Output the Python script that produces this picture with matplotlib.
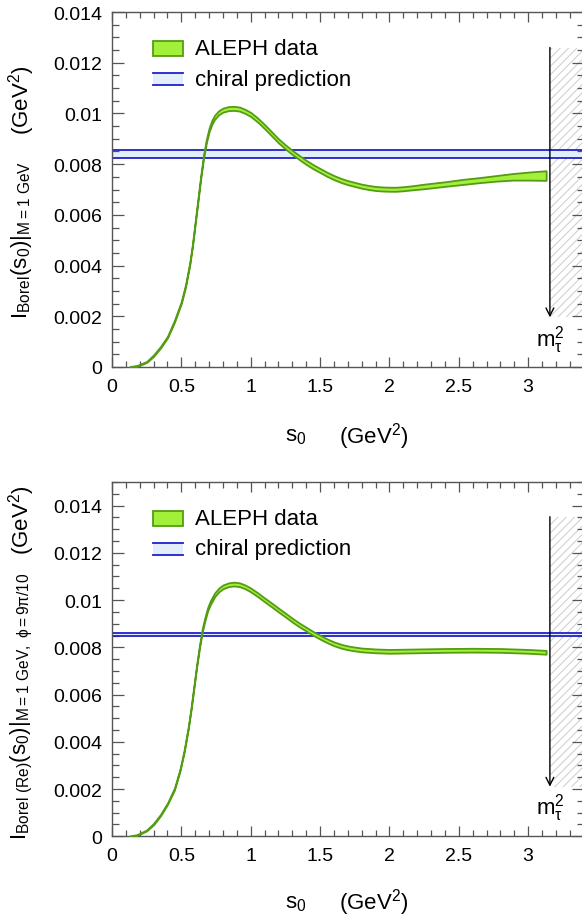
import matplotlib
matplotlib.use("Agg")
import matplotlib.pyplot as plt
from matplotlib.patches import Rectangle
from matplotlib.ticker import FixedLocator, FixedFormatter, MultipleLocator
import numpy as np

# ---------------- data ----------------
# top panel: ALEPH band (centre and half-width)
s_top = [0.13, 0.18, 0.25, 0.30, 0.35, 0.40, 0.45, 0.50, 0.53, 0.56, 0.58, 0.60,
         0.62, 0.64, 0.66, 0.68, 0.70, 0.72, 0.74, 0.77, 0.80, 0.84, 0.88, 0.92,
         0.96, 1.00, 1.05, 1.10, 1.15, 1.20, 1.25, 1.30, 1.35, 1.40, 1.45, 1.50,
         1.55, 1.60, 1.65, 1.70, 1.75, 1.80, 1.85, 1.90, 1.95, 2.00, 2.05, 2.10,
         2.17, 2.25, 2.33, 2.41, 2.53, 2.65, 2.77, 2.89, 3.01, 3.13]
v_top = [0.0, 0.00004, 0.0002, 0.00045, 0.00078, 0.00118, 0.0018, 0.00255, 0.0032,
         0.00405, 0.0048, 0.0057, 0.0066, 0.0075, 0.0083, 0.0089, 0.00935, 0.00965,
         0.00985, 0.01003, 0.01013, 0.01019, 0.0102, 0.01017, 0.01008, 0.00996,
         0.00974, 0.00948, 0.0092, 0.00892, 0.00868, 0.00846, 0.00826, 0.00807,
         0.0079, 0.00775, 0.0076, 0.00747, 0.00736, 0.00727, 0.0072, 0.00713,
         0.00708, 0.00704, 0.00702, 0.00701, 0.00701, 0.00703, 0.00707, 0.00712,
         0.00717, 0.00722, 0.0073, 0.00737, 0.00744, 0.0075, 0.00753, 0.00755]
e_top = [0.00002, 0.00002, 0.00002, 0.00003, 0.00003, 0.00003, 0.00004, 0.00004, 0.00005,
         0.00005, 0.00005, 0.00006, 0.00006, 0.00006, 0.00007, 0.00007, 0.00007, 0.00008,
         0.00008, 0.00008, 0.00008, 0.00008, 0.00008, 0.00008, 0.00008, 0.00008,
         0.00008, 0.00008, 0.00008, 0.00008, 0.00008, 0.00008, 0.00008, 0.00008,
         0.00008, 0.00008, 0.00008, 0.00008, 0.00008, 0.00008, 0.00008, 0.00008,
         0.00008, 0.00008, 0.00008, 0.00008, 0.00008, 0.00008, 0.00008, 0.00009,
         0.00009, 0.00009, 0.0001, 0.0001, 0.00011, 0.00013, 0.00016, 0.00019]
chiral_top = [0.00825, 0.00856]

# bottom panel
s_bot = [0.13, 0.18, 0.25, 0.30, 0.35, 0.40, 0.45, 0.49, 0.52, 0.55, 0.57, 0.59,
         0.61, 0.63, 0.65, 0.67, 0.69, 0.71, 0.74, 0.77, 0.80, 0.84, 0.88, 0.92,
         0.96, 1.00, 1.05, 1.10, 1.15, 1.20, 1.25, 1.30, 1.35, 1.40, 1.45, 1.50,
         1.55, 1.60, 1.65, 1.70, 1.75, 1.80, 1.90, 2.00, 2.20, 2.40, 2.60, 2.80,
         3.00, 3.13]
v_bot = [0.0, 0.00005, 0.00025, 0.00052, 0.0009, 0.00138, 0.002, 0.0028, 0.0036,
         0.0046, 0.0054, 0.0063, 0.0072, 0.008, 0.0087, 0.0092, 0.00962, 0.0099,
         0.01022, 0.01043, 0.01056, 0.01065, 0.01068, 0.01065, 0.01056, 0.01043,
         0.01023, 0.01001, 0.0098, 0.00958, 0.00937, 0.00915, 0.00895, 0.00877,
         0.00859, 0.00843, 0.00828, 0.00815, 0.00805, 0.00798, 0.00793, 0.00789,
         0.00785, 0.00783, 0.00785, 0.00787, 0.00788, 0.00787, 0.00783, 0.00779]
e_bot = [0.00002, 0.00002, 0.00002, 0.00003, 0.00003, 0.00003, 0.00004, 0.00004, 0.00005,
         0.00005, 0.00005, 0.00006, 0.00006, 0.00006, 0.00007, 0.00007, 0.00007, 0.00008,
         0.00008, 0.00008, 0.00008, 0.00008, 0.00008, 0.00008, 0.00008, 0.00008,
         0.00008, 0.00008, 0.00008, 0.00008, 0.00008, 0.00008, 0.00008, 0.00008,
         0.00008, 0.00008, 0.00008, 0.00008, 0.00008, 0.00008, 0.00008, 0.00008,
         0.00008, 0.00008, 0.00008, 0.00008, 0.00008, 0.00008, 0.00008, 0.00008]
chiral_bot = [0.00847, 0.0086]

m_tau2 = 3.157
x_ticks = [0, 0.5, 1, 1.5, 2, 2.5, 3]
x_ticklabels = ["0", "0.5", "1", "1.5", "2", "2.5", "3"]
y_ticks = [0, 0.002, 0.004, 0.006, 0.008, 0.01, 0.012, 0.014]
y_ticklabels = ["0", "0.002", "0.004", "0.006", "0.008", "0.01", "0.012", "0.014"]

legend_labels = ["ALEPH data", "chiral prediction"]
ylabel_top = r"$\mathrm{I_{Borel}(s_0)|_{M=1\ GeV}}$"
ylabel_bot = r"$\mathrm{I_{Borel\ (Re)}(s_0)|_{M=1\ GeV,\ \phi=9\pi/10}}$"

# ---------------- style ----------------
FONT = "Liberation Sans"
plt.rcParams["font.family"] = [FONT, "DejaVu Sans"]
plt.rcParams["mathtext.fontset"] = "custom"
plt.rcParams["mathtext.rm"] = FONT
plt.rcParams["mathtext.it"] = FONT + ":italic"
plt.rcParams["mathtext.sf"] = FONT
plt.rcParams["hatch.linewidth"] = 0.7

GREEN_FILL = "#a3f03a"
GREEN_EDGE = "#549c14"
BLUE = "#2020cc"
BAND_BLUE = "#e2effa"
FRAME = "#555555"

fig = plt.figure(figsize=(5.82, 9.2), dpi=100)

W = 582.0
H = 920.0
left = 112 / W
width = 471.6 / W


def make_panel(ax, s, v, e, chiral, ytop, hatch_top, arrow_bot, label_y):
    s = np.asarray(s)
    v = np.asarray(v)
    e = np.asarray(e)
    ax.set_xlim(0, 3.4)
    ax.set_ylim(0, ytop)
    # chiral band
    ax.axhspan(chiral[0], chiral[1], color=BAND_BLUE, lw=0, zorder=1)
    ax.axhline(chiral[0], color=BLUE, lw=1.3, zorder=2)
    ax.axhline(chiral[1], color=BLUE, lw=1.3, zorder=2)
    # ALEPH band
    ax.fill_between(s, v - e, v + e, facecolor=GREEN_FILL, edgecolor=GREEN_EDGE,
                    lw=1.3, zorder=3)
    # excluded region hatch
    r = Rectangle((m_tau2, arrow_bot), 3.4 - m_tau2, hatch_top - arrow_bot,
                  fill=False, hatch="////", edgecolor="#cccccc", lw=0, zorder=0)
    ax.add_patch(r)
    ax.annotate("", xy=(m_tau2, arrow_bot), xytext=(m_tau2, hatch_top),
                arrowprops=dict(arrowstyle="->", color="black", lw=1.0,
                                shrinkA=0, shrinkB=0, mutation_scale=14),
                zorder=4)
    ax.text(m_tau2, label_y, r"m$_{\mathrm{\tau}}^{2}$", fontsize=16, ha="center",
            va="center", zorder=5)

    # ticks
    ax.xaxis.set_major_locator(FixedLocator(x_ticks))
    ax.xaxis.set_major_formatter(FixedFormatter(x_ticklabels))
    ax.xaxis.set_minor_locator(MultipleLocator(0.1))
    ax.yaxis.set_major_locator(FixedLocator(y_ticks))
    ax.yaxis.set_major_formatter(FixedFormatter(y_ticklabels))
    ax.yaxis.set_minor_locator(MultipleLocator(0.0005))
    ax.tick_params(which="both", direction="in", top=True, right=True,
                   color=FRAME, width=0.9, labelsize=14)
    ax.tick_params(axis="x", which="major", length=7.5, pad=8)
    ax.tick_params(axis="x", which="minor", length=4.3)
    ax.tick_params(axis="y", which="major", length=8.6, pad=7)
    ax.tick_params(axis="y", which="minor", length=5)
    for sp in ax.spines.values():
        sp.set_color(FRAME)
        sp.set_linewidth(1.0)

    # legend drawn by hand in axes fraction
    ax.add_patch(Rectangle((0.087, 0.877), 0.0635, 0.04, transform=ax.transAxes,
                           facecolor=GREEN_FILL, edgecolor=GREEN_EDGE, lw=1.3,
                           zorder=6))
    ax.text(0.176, 0.897, legend_labels[0], transform=ax.transAxes, fontsize=16,
            va="center", ha="left")
    ax.add_patch(Rectangle((0.087, 0.793), 0.0635, 0.036, transform=ax.transAxes,
                           facecolor=BAND_BLUE, lw=0, zorder=6))
    for yy in (0.793, 0.829):
        ax.plot([0.087, 0.1505], [yy, yy], transform=ax.transAxes, color=BLUE,
                lw=1.3, zorder=7)
    ax.text(0.176, 0.811, legend_labels[1], transform=ax.transAxes, fontsize=16,
            va="center", ha="left")


ax1 = fig.add_axes([left, (H - 368) / H, width, 355 / H])
make_panel(ax1, s_top, v_top, e_top, chiral_top, 0.014, 0.0126, 0.00196, 0.0011)
ax2 = fig.add_axes([left, (H - 837.3) / H, width, 354.3 / H])
make_panel(ax2, s_bot, v_bot, e_bot, chiral_bot, 0.015, 0.01353, 0.0021, 0.00122)

# axis labels (figure coords)
for ypix_lab, ypix_gev, lab in ((240, 100, ylabel_top), (706, 520, ylabel_bot)):
    fig.text(22 / W, 1 - ypix_lab / H, lab, rotation=90, fontsize=16,
             ha="center", va="center")
    fig.text(22 / W, 1 - ypix_gev / H, r"(GeV$^2$)", rotation=90, fontsize=16,
             ha="center", va="center")
for ypix in (437, 903):
    fig.text(296 / W, 1 - ypix / H, r"s$_0$", fontsize=16, ha="center", va="center")
    fig.text(374 / W, 1 - ypix / H, r"(GeV$^2$)", fontsize=16, ha="center", va="center")

fig.savefig("out.png", dpi=100)
